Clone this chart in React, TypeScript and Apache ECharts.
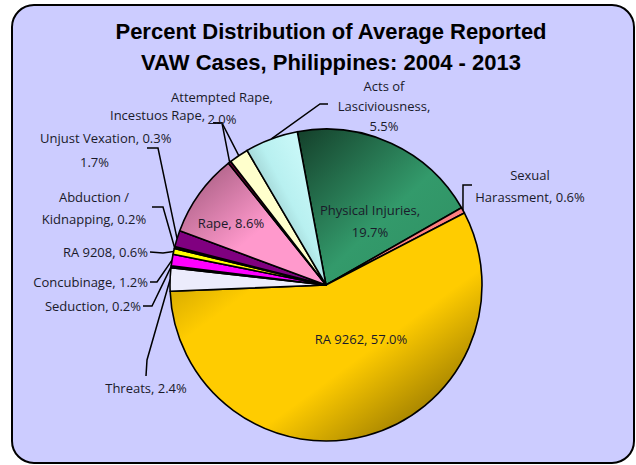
import React, { useEffect, useRef } from "react";
import * as echarts from "echarts";

const titleLines = ["Percent Distribution of Average Reported", "VAW Cases, Philippines: 2004 - 2013"];
const categories = [
  "Physical Injuries",
  "Sexual Harassment",
  "RA 9262",
  "Threats",
  "Seduction",
  "Concubinage",
  "RA 9208",
  "Abduction / Kidnapping",
  "Unjust Vexation",
  "Rape",
  "Incestuos Rape",
  "Attempted Rape",
  "Acts of Lasciviousness",
];
const percents = [19.7, 0.6, 57.0, 2.4, 0.2, 1.2, 0.6, 0.2, 1.7, 8.6, 0.3, 2.0, 5.5];

const pct = (i: number) => `${percents[i].toFixed(1)}%`;

// label text per slice (as laid out in the reference)
const labelText = (i: number): string => {
  switch (i) {
    case 0: return `Physical Injuries,\n${pct(0)}`;
    case 1: return `Sexual\nHarassment, ${pct(1)}`;
    case 2: return `RA 9262, ${pct(2)}`;
    case 3: return `Threats, ${pct(3)}`;
    case 4: return `Seduction, ${pct(4)}`;
    case 5: return `Concubinage, ${pct(5)}`;
    case 6: return `RA 9208, ${pct(6)}`;
    case 7: return `Abduction /\nKidnapping, ${pct(7)}`;
    case 8: return `{u1|Unjust Vexation, ${pct(10)}}\n{u2|${pct(8)}}`;
    case 9: return `Rape, ${pct(9)}`;
    case 10: return `Incestuos Rape,`;
    case 11: return `Attempted Rape,\n${pct(11)}`;
    case 12: return `Acts of\nLasciviousness,\n${pct(12)}`;
  }
  return "";
};

const FONT = "'Open Sans', 'Liberation Sans', sans-serif";
const FS = 13;
const TXT = "#1a1a2a";

// styling / placement (not data)
type Spec = { x: number; y: number; align: string; inside?: boolean; line?: number[][]; lh?: number };
const specs: Spec[] = [
  { x: 370, y: 221, align: "center", inside: true },
  { x: 530, y: 186, align: "center", line: [[463, 185], [472, 185]] },
  { x: 361, y: 339, align: "center", inside: true },
  { x: 146, y: 388, align: "center", line: [[147, 360], [146, 376]] },
  { x: 141, y: 306, align: "right", line: [[152, 306], [143, 306]] },
  { x: 148, y: 282, align: "right", line: [[157, 282], [150, 282]] },
  { x: 148, y: 252, align: "right", line: [[163, 253], [150, 252]] },
  { x: 94, y: 208, align: "center", line: [[163, 207], [152, 207]] },
  { x: 40, y: 150, align: "left", line: [[158, 148], [147, 148]] },
  { x: 231, y: 223, align: "center", inside: true },
  { x: 110, y: 115, align: "left", line: [[222, 123], [213, 123]] },
  { x: 222, y: 108, align: "center", line: [[222, 123], [213, 123]] },
  { x: 384, y: 106, align: "center", line: [[320, 104], [328, 104]], lh: 20 },
];

const lg = (x: number, y: number, x2: number, y2: number, stops: [number, string][]) =>
  new echarts.graphic.LinearGradient(x, y, x2, y2, stops.map(([offset, color]) => ({ offset, color })));

const colors: any[] = [
  lg(0, 0, 1, 1, [[0, "#143f2a"], [0.55, "#339a6b"], [1, "#2f8f62"]]),
  "#ff8080",
  lg(0, 0, 1, 1, [[0, "#a88400"], [0.3, "#ffcc00"], [0.62, "#ffcc00"], [1, "#6a5300"]]),
  "#ececfc",
  "#000080",
  "#ff00ff",
  "#ffff00",
  "#1a0020",
  "#800080",
  lg(0, 0, 1, 1, [[0, "#9a5577"], [0.55, "#ff99cc"], [1, "#ff99cc"]]),
  "#660033",
  "#ffffcc",
  lg(1, 0, 0, 1, [[0, "#d8ffff"], [0.45, "#b8f0f0"], [1, "#5e7d7d"]]),
];

export default function App() {
  const ref = useRef<HTMLDivElement>(null);
  useEffect(() => {
    if (!ref.current) return;
    const chart = echarts.init(ref.current, undefined, { renderer: "svg" });
    const data = categories.map((name, i) => {
      const s = specs[i];
      return {
        name,
        value: percents[i],
        itemStyle: { color: colors[i] },
        label: {
          show: true,
          position: s.inside ? "inside" : "outside",
          formatter: () => labelText(i),
          lineHeight: s.lh ?? 22,
        },
        labelLine: { show: !s.inside },
      };
    });
    chart.setOption({
      animation: false,
      backgroundColor: "#ffffff",
      title: {
        text: titleLines.join("\n"),
        left: 326,
        top: 11,
        textAlign: "center",
        textStyle: {
          fontFamily: "'Liberation Sans', Arial, sans-serif",
          fontWeight: "bold",
          fontSize: 22,
          lineHeight: 31,
          color: "#000000",
        },
      },
      graphic: [
        {
          type: "rect",
          z: -10,
          shape: { x: 12, y: 5, width: 622, height: 458, r: 22 },
          style: { fill: "#ccccff", stroke: "#000000", lineWidth: 2 },
        },
      ],
      series: [
        {
          type: "pie",
          center: [326, 285],
          radius: 156,
          startAngle: 100.6,
          clockwise: true,
          avoidLabelOverlap: false,
          itemStyle: { borderColor: "#000000", borderWidth: 1.6 },
          label: {
            fontFamily: FONT,
            fontSize: FS,
            color: TXT,
            rich: {
              u1: { fontFamily: FONT, fontSize: FS, color: TXT, lineHeight: 24 },
              u2: { fontFamily: FONT, fontSize: FS, color: TXT, lineHeight: 24, padding: [0, 0, 0, 40] },
            },
          },
          labelLine: { show: true, length: 8, length2: 8, lineStyle: { color: "#000000", width: 1.5 } },
          emphasis: { disabled: true },
          labelLayout: (params: any) => {
            const s = specs[params.dataIndex];
            if (!s) return {};
            const res: any = { x: s.x, y: s.y, align: s.align, verticalAlign: "middle" };
            if (s.line && params.labelLinePoints && params.labelLinePoints[0]) {
              res.labelLinePoints = [params.labelLinePoints[0], ...s.line];
            }
            return res;
          },
          data,
        },
      ],
    });
    return () => chart.dispose();
  }, []);
  return (
    <div
      ref={ref}
      style={{ position: "fixed", left: 0, top: 0, width: 636, height: 465 }}
    />
  );
}
